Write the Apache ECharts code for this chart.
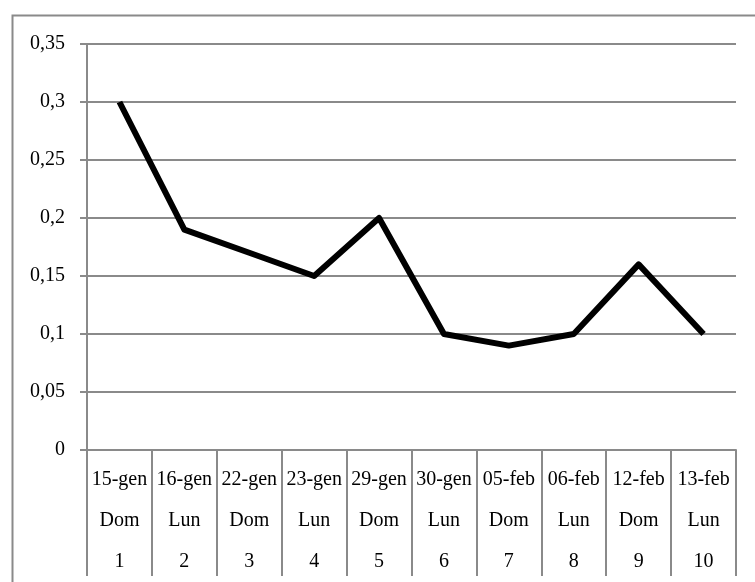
<!DOCTYPE html>
<html>
<head>
<meta charset="utf-8">
<script src="https://cdn.jsdelivr.net/npm/echarts@6/dist/echarts.min.js"></script>
<style>html,body{margin:0;padding:0;background:#fff;}#c{width:755px;height:582px;}</style>
</head>
<body>
<div id="c"></div>
<script>
const dates = ['15-gen','16-gen','22-gen','23-gen','29-gen','30-gen','05-feb','06-feb','12-feb','13-feb'];
const days = ['Dom','Lun','Dom','Lun','Dom','Lun','Dom','Lun','Dom','Lun'];
const nums = ['1','2','3','4','5','6','7','8','9','10'];
const values = [0.30, 0.19, 0.17, 0.15, 0.20, 0.10, 0.09, 0.10, 0.16, 0.10];

const chart = echarts.init(document.getElementById('c'), null, {renderer: 'canvas'});
const font = 'Liberation Serif';
const gray = '#8a8a8a';
chart.setOption({
  animation: false,
  backgroundColor: '#fff',
  graphic: [{
    type: 'rect', left: 10, top: 13, shape: {x: 0, y: 0, width: 760, height: 600},
    style: {fill: 'none', stroke: gray, lineWidth: 2}
  }],
  grid: {left: 87, right: 19, top: 44, bottom: 131, containLabel: false},
  xAxis: {
    type: 'category',
    data: dates.map((d, i) => d + '\n' + days[i] + '\n' + nums[i]),
    boundaryGap: true,
    axisLine: {show: true, lineStyle: {color: gray, width: 2}},
    axisTick: {show: true, interval: 0, length: 126, lineStyle: {color: gray, width: 2}},
    axisLabel: {interval: 0, margin: 9, color: '#000', fontFamily: font, fontSize: 20, lineHeight: 41}
  },
  yAxis: {
    type: 'value', min: 0, max: 0.35, interval: 0.05,
    axisLine: {show: true, lineStyle: {color: gray, width: 2}},
    axisTick: {show: true, length: 7, lineStyle: {color: gray, width: 2}},
    splitLine: {show: true, lineStyle: {color: gray, width: 2}},
    axisLabel: {
      margin: 22, color: '#000', fontFamily: font, fontSize: 20,
      formatter: v => String(Math.round(v * 100) / 100).replace('.', ',')
    }
  },
  series: [{
    type: 'line', data: values, symbol: 'none',
    lineStyle: {color: '#000', width: 6, join: 'round'}
  }]
});
</script>
</body>
</html>
